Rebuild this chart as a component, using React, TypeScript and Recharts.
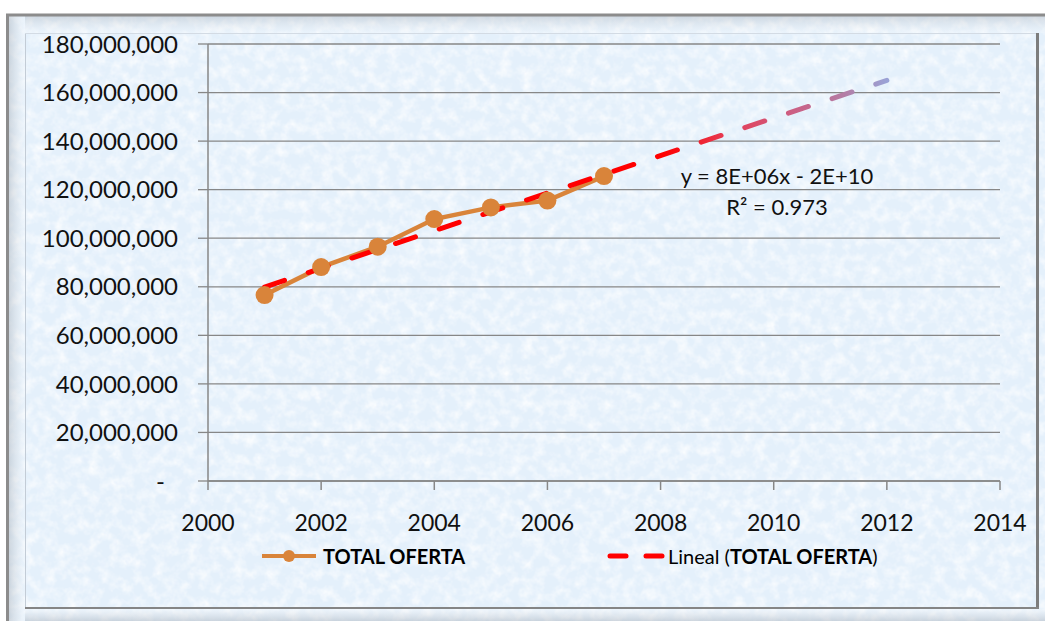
import { LineChart, Line, XAxis, YAxis, CartesianGrid, Legend } from 'recharts';

// Oferta total por año
const years = [2001, 2002, 2003, 2004, 2005, 2006, 2007];
const totalOferta = [76600000, 88100000, 96500000, 107900000, 112700000, 115500000, 125600000];

// Tendencia lineal (extremos de la recta, proyectada hasta 2012)
const trendYears = [2001, 2012];
const trendValues = [79900000, 165000000];

const xTicks = [2000, 2002, 2004, 2006, 2008, 2010, 2012, 2014];
const yTicks = [0, 20000000, 40000000, 60000000, 80000000, 100000000, 120000000, 140000000, 160000000, 180000000];

const equationText = 'y = 8E+06x - 2E+10';
const r2Text = 'R² = 0.973';

const FONT = 'Lato, "Open Sans", sans-serif';
const ORANGE = '#D9843A';
const GRID = '#878787';

const ofertaData = years.map((year, i) => ({ year, value: totalOferta[i] }));
const trendData = trendYears.map((year, i) => ({ year, value: trendValues[i] }));

const YTick = ({ x, y, payload }: any) => {
  const isZero = payload.value === 0;
  return (
    <text
      x={isZero ? x - 13 : x}
      y={y}
      dy='0.36em'
      textAnchor='end'
      fill='#111'
      fontSize={24}
      fontFamily={FONT}
    >
      {isZero ? '-' : payload.value.toLocaleString('en-US')}
    </text>
  );
};

const renderLegend = () => (
  <div style={{ position: 'relative', height: 40, fontFamily: FONT, fontSize: 20, color: '#000', fontWeight: 700 }}>
    <svg style={{ position: 'absolute', left: 262, top: 13 }} width={56} height={14}>
      <line x1={0} y1={7} x2={54} y2={7} stroke={ORANGE} strokeWidth={4} />
      <circle cx={27} cy={7} r={6} fill={ORANGE} />
    </svg>
    <span style={{ position: 'absolute', left: 323, top: 7, lineHeight: '26px' }}>TOTAL OFERTA</span>
    <svg style={{ position: 'absolute', left: 606, top: 15 }} width={60} height={10}>
      <line x1={4} y1={5} x2={20} y2={5} stroke='#FF0000' strokeWidth={5} strokeLinecap='round' />
      <line x1={40} y1={5} x2={56} y2={5} stroke='#FF0000' strokeWidth={5} strokeLinecap='round' />
    </svg>
    <span style={{ position: 'absolute', left: 668, top: 7, lineHeight: '26px', fontWeight: 400 }}>
      Lineal (<b>TOTAL OFERTA</b>)
    </span>
  </div>
);

const Backdrop = () => (
  <svg width={1045} height={621} style={{ position: 'absolute', left: 0, top: 0 }}>
    <defs>
      <filter id='paper' x='0' y='0' width='100%' height='100%'>
        <feTurbulence type='fractalNoise' baseFrequency='0.09' numOctaves={3} seed={7} />
        <feColorMatrix
          type='matrix'
          values='0 0 0 0 1  0 0 0 0 1  0 0 0 0 1  1.6 0 0 0 -0.62'
        />
      </filter>
      <filter id='speck' x='0' y='0' width='100%' height='100%'>
        <feTurbulence type='fractalNoise' baseFrequency='0.16' numOctaves={2} seed={21} />
        <feColorMatrix
          type='matrix'
          values='0 0 0 0 0.78  0 0 0 0 0.86  0 0 0 0 0.97  0 1.8 0 0 -1.0'
        />
      </filter>
      <linearGradient id='bevelLeft' x1='0' y1='0' x2='1' y2='0'>
        <stop offset='0' stopColor='#9aa3ad' stopOpacity={0.5} />
        <stop offset='1' stopColor='#ffffff' stopOpacity={0.2} />
      </linearGradient>
      <linearGradient id='bevelTop' x1='0' y1='0' x2='0' y2='1'>
        <stop offset='0' stopColor='#9aa3ad' stopOpacity={0.4} />
        <stop offset='1' stopColor='#ffffff' stopOpacity={0.2} />
      </linearGradient>
      <linearGradient id='bevelBottom' x1='0' y1='0' x2='0' y2='1'>
        <stop offset='0' stopColor='#ffffff' stopOpacity={0.3} />
        <stop offset='1' stopColor='#a6aeb8' stopOpacity={0.45} />
      </linearGradient>
    </defs>
    <rect x={0} y={0} width={1045} height={621} fill='#ffffff' />
    <rect x={6} y={14} width={1039} height={607} fill='#E4F0FB' />
    <rect x={6} y={14} width={1039} height={607} filter='url(#paper)' />
    <rect x={6} y={14} width={1039} height={607} filter='url(#speck)' />
    {/* bevel */}
    <rect x={6} y={14} width={19} height={607} fill='url(#bevelLeft)' />
    <rect x={25} y={14} width={1020} height={19} fill='url(#bevelTop)' />
    <rect x={25} y={609} width={1020} height={12} fill='url(#bevelBottom)' />
    <line x1={6} y1={15} x2={1045} y2={15} stroke='#8c8c8c' strokeWidth={3} />
    <line x1={7.5} y1={14} x2={7.5} y2={621} stroke='#8c8c8c' strokeWidth={3} />
    <line x1={25.5} y1={33} x2={25.5} y2={608} stroke='#c3ccd6' strokeWidth={1} />
    <line x1={25} y1={33.5} x2={1037} y2={33.5} stroke='#d3dbe4' strokeWidth={1} />
    <line x1={1037.5} y1={33} x2={1037.5} y2={609} stroke='#7d7d7d' strokeWidth={3} />
    <line x1={25} y1={608} x2={1039} y2={608} stroke='#858585' strokeWidth={2} />
  </svg>
);

const App = () => {
  return (
    <div style={{ position: 'absolute', left: 0, top: 0, width: 1045, height: 621, overflow: 'hidden', fontFamily: FONT }}>
      <Backdrop />
      <div style={{ position: 'absolute', left: 0, top: 0 }}>
        <LineChart width={1045} height={621} margin={{ top: 44, right: 45, bottom: 30, left: 0 }}>
          <defs>
            <linearGradient id='trendFade' x1='0' y1='0' x2='1' y2='0'>
              <stop offset='0' stopColor='#FF0000' />
              <stop offset='0.64' stopColor='#FF0000' />
              <stop offset='0.74' stopColor='#E63A52' />
              <stop offset='0.84' stopColor='#CE5C80' />
              <stop offset='0.93' stopColor='#B47CA4' />
              <stop offset='1' stopColor='#9AA2D6' />
            </linearGradient>
          </defs>
          <CartesianGrid vertical={false} stroke={GRID} strokeWidth={1.3} />
          <XAxis
            type='number'
            dataKey='year'
            domain={[2000, 2014]}
            ticks={xTicks}
            interval={0}
            height={70}
            tickSize={9}
            tickMargin={25}
            axisLine={{ stroke: GRID, strokeWidth: 1.5 }}
            tickLine={{ stroke: GRID, strokeWidth: 1.5 }}
            tick={{ fill: '#111', fontSize: 23, fontFamily: FONT }}
          />
          <YAxis
            type='number'
            domain={[0, 180000000]}
            ticks={yTicks}
            interval={0}
            width={208}
            tickSize={10}
            tickMargin={20}
            axisLine={{ stroke: GRID, strokeWidth: 1.5 }}
            tickLine={{ stroke: GRID, strokeWidth: 1.3 }}
            tick={<YTick />}
          />
          <Legend verticalAlign='bottom' content={renderLegend} wrapperStyle={{ bottom: 45 }} />
          <Line
            data={ofertaData}
            dataKey='value'
            name='TOTAL OFERTA'
            stroke={ORANGE}
            strokeWidth={4.5}
            dot={{ r: 9, fill: ORANGE, stroke: ORANGE, strokeWidth: 0 }}
            activeDot={false}
            isAnimationActive={false}
          />
          <Line
            data={trendData}
            dataKey='value'
            name='Lineal (TOTAL OFERTA)'
            stroke='url(#trendFade)'
            strokeWidth={5}
            strokeDasharray='21 25'
            strokeLinecap='round'
            dot={false}
            activeDot={false}
            isAnimationActive={false}
          />
        </LineChart>
      </div>
      <div
        style={{
          position: 'absolute',
          left: 677,
          top: 160,
          width: 200,
          textAlign: 'center',
          fontSize: 22,
          lineHeight: '31px',
          color: '#111',
          fontFamily: FONT,
        }}
      >
        <div>{equationText}</div>
        <div>{r2Text}</div>
      </div>
    </div>
  );
};

export default App;
